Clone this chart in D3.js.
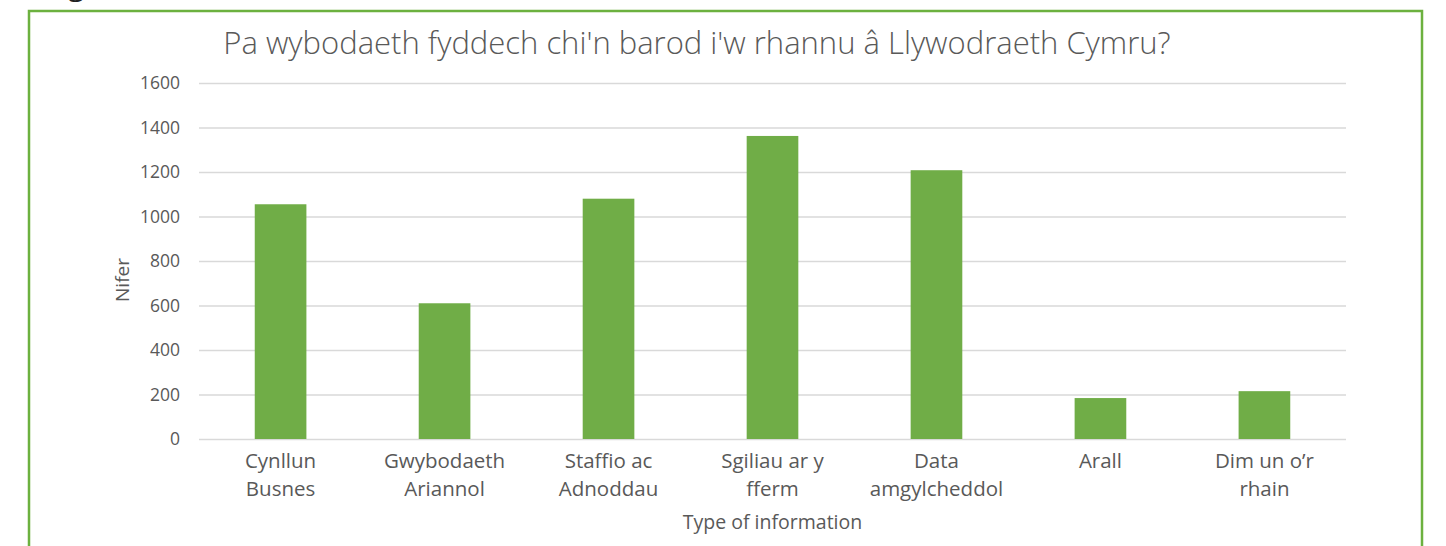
<!DOCTYPE html>
<html lang="cy">
<head>
<meta charset="UTF-8">
<title>Pa wybodaeth</title>
<script src="https://d3js.org/d3.v7.min.js"></script>
<style>
body{margin:0; background:#fff; overflow:hidden;}
text{font-family:"Open Sans", "Noto Sans", sans-serif; fill:#595959;}
</style>
</head>
<body>
<div id="chart"></div>
<script>
// data
var categories = [
	["Cynllun", "Busnes"],
	["Gwybodaeth", "Ariannol"],
	["Staffio ac", "Adnoddau"],
	["Sgiliau ar y", "fferm"],
	["Data", "amgylcheddol"],
	["Arall"],
	["Dim un o\u2019r", "rhain"]
];
var values = [1055, 610, 1080, 1362, 1208, 184, 215];
var yTicks = [0, 200, 400, 600, 800, 1000, 1200, 1400, 1600];

var w = 1446, h = 546;
var margin = {top: 83, right: 100, bottom: 107, left: 199};

var svg = d3.select("#chart").append("svg")
	.attr("width", w)
	.attr("height", h);

// cut-off text from the page above
svg.append("text")
	.attr("x", 68)
	.attr("y", -5)
	.attr("font-size", 30)
	.style("fill", "#222")
	.text("g");

// green frame, runs past the bottom
svg.append("rect")
	.attr("x", 29)
	.attr("y", 11)
	.attr("width", 1393)
	.attr("height", 560)
	.attr("fill", "none")
	.attr("stroke", "#6cb13f")
	.attr("stroke-width", 2.5);

var x = d3.scaleBand()
	.domain(d3.range(categories.length))
	.range([margin.left, w - margin.right])
	.paddingInner(0.685)
	.paddingOuter(0.34);

var y = d3.scaleLinear()
	.domain([0, 1600])
	.range([h - margin.bottom, margin.top]);

// gridlines + y labels
var yAxis = d3.axisLeft(y)
	.tickValues(yTicks)
	.tickFormat(d3.format("d"))
	.tickSize(-(w - margin.right - margin.left))
	.tickPadding(19);

var gy = svg.append("g")
	.attr("transform", "translate(" + margin.left + ",0)")
	.call(yAxis);
gy.select(".domain").remove();
gy.selectAll(".tick line").attr("stroke", "#d9d9d9").attr("stroke-width", 1.3);
gy.selectAll(".tick text")
	.attr("font-size", 17.5)
	.attr("font-family", null)
	.style("fill", "#595959");

// bars
svg.selectAll("rect.bar")
	.data(values)
	.enter()
	.append("rect")
	.attr("class", "bar")
	.attr("x", function(d, i){ return x(i); })
	.attr("y", function(d){ return y(d); })
	.attr("width", x.bandwidth())
	.attr("height", function(d){ return y(0) - y(d); })
	.attr("fill", "#70ad47");

// x labels
var xl = svg.selectAll("text.xlab")
	.data(categories)
	.enter()
	.append("text")
	.attr("class", "xlab")
	.attr("text-anchor", "middle")
	.attr("font-size", 20.5)
	.attr("y", y(0) + 29);
xl.selectAll("tspan")
	.data(function(d){ return d; })
	.enter()
	.append("tspan")
	.attr("x", function(){ return x(categories.indexOf(d3.select(this.parentNode).datum())) + x.bandwidth() / 2; })
	.attr("dy", function(d, j){ return j === 0 ? 0 : 28; })
	.text(function(d){ return d; });

// axis titles
svg.append("text")
	.attr("x", (margin.left + w - margin.right) / 2)
	.attr("y", 529)
	.attr("text-anchor", "middle")
	.attr("font-size", 19.5)
	.text("Type of information");

svg.append("text")
	.attr("transform", "translate(129,280) rotate(-90)")
	.attr("text-anchor", "middle")
	.attr("font-size", 19)
	.text("Nifer");

// title
svg.append("text")
	.attr("x", 697)
	.attr("y", 54)
	.attr("text-anchor", "middle")
	.attr("font-size", 31)
	.attr("font-weight", 300)
	.text("Pa wybodaeth fyddech chi'n barod i'w rhannu \u00e2 Llywodraeth Cymru?");
</script>
</body>
</html>
